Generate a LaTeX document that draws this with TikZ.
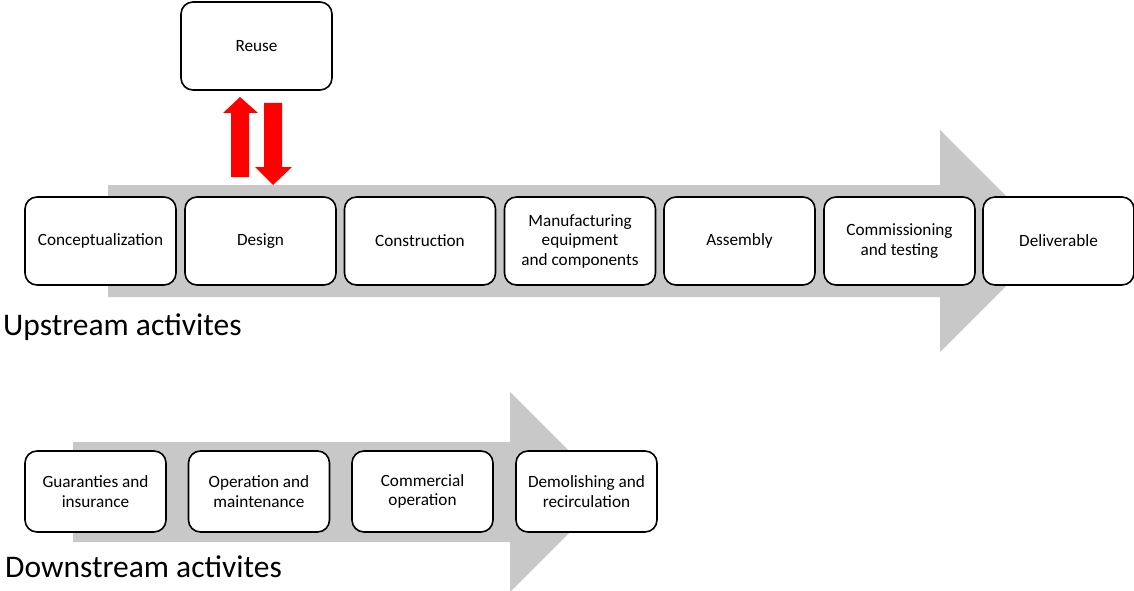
\documentclass[tikz,border=0pt]{standalone}
\usepackage{fontspec}
\setmainfont{Carlito}
\definecolor{flowgray}{RGB}{200,200,200}
\definecolor{linkred}{RGB}{255,0,0}
\begin{document}
\begin{tikzpicture}[x=1pt,y=-1pt,
  stage/.style={draw=black, line width=1.6pt, fill=white, rounded corners=12pt,
    align=center, inner sep=2pt, font=\fontsize{17.2}{19.5}\selectfont},
  upstage/.style={stage, minimum width=151pt, minimum height=88pt},
  downstage/.style={stage, minimum width=141pt, minimum height=81pt},
  heading/.style={anchor=base west, inner sep=0pt, font=\fontsize{31.5}{36}\selectfont}]
\useasboundingbox (0,0) rectangle (1134,591);

% broad grey flow arrows
\fill[flowgray] (108,185) -- (940,185) -- (940,130) -- (1051,241)
  -- (940,352) -- (940,297) -- (108,297) -- cycle;
\fill[flowgray] (73,442) -- (510,442) -- (510,392) -- (610,492)
  -- (510,592) -- (510,542) -- (73,542) -- cycle;

% upstream stages
\node[upstage] (concept) at (100.5,241) {Conceptualization};
\node[upstage] (design)  at (260.5,241) {Design};
\node[upstage] (constr)  at (420,241)   {Construction};
\node[upstage] (manuf)   at (580,241)   {Manufacturing\\equipment\\and components};
\node[upstage] (assem)   at (739.5,241) {Assembly};
\node[upstage] (commis)  at (899.5,241) {Commissioning\\and testing};
\node[upstage] (deliv)   at (1058.5,241) {Deliverable};
\node[upstage] (reuse)   at (256.5,46)  {Reuse};

% exchange between design and reuse
\fill[linkred] (231,177) -- (231,113) -- (223,113) -- (240,97)
  -- (258,113) -- (249,113) -- (249,177) -- cycle;
\fill[linkred] (264,103) -- (282,103) -- (282,167) -- (292,167)
  -- (273,185) -- (255,167) -- (264,167) -- cycle;

\node[heading] (uplabel) at (3,335) {Upstream activites};

% downstream stages
\node[downstage] (guar)  at (95.5,491.5)  {Guaranties and\\insurance};
\node[downstage] (oper)  at (259,491.5)   {Operation and\\maintenance};
\node[downstage] (comm)  at (422.5,491.5) {Commercial\\operation};
\node[downstage] (demol) at (586.5,491.5) {Demolishing and\\recirculation};

\node[heading] (downlabel) at (5,577) {Downstream activites};
\end{tikzpicture}
\end{document}
